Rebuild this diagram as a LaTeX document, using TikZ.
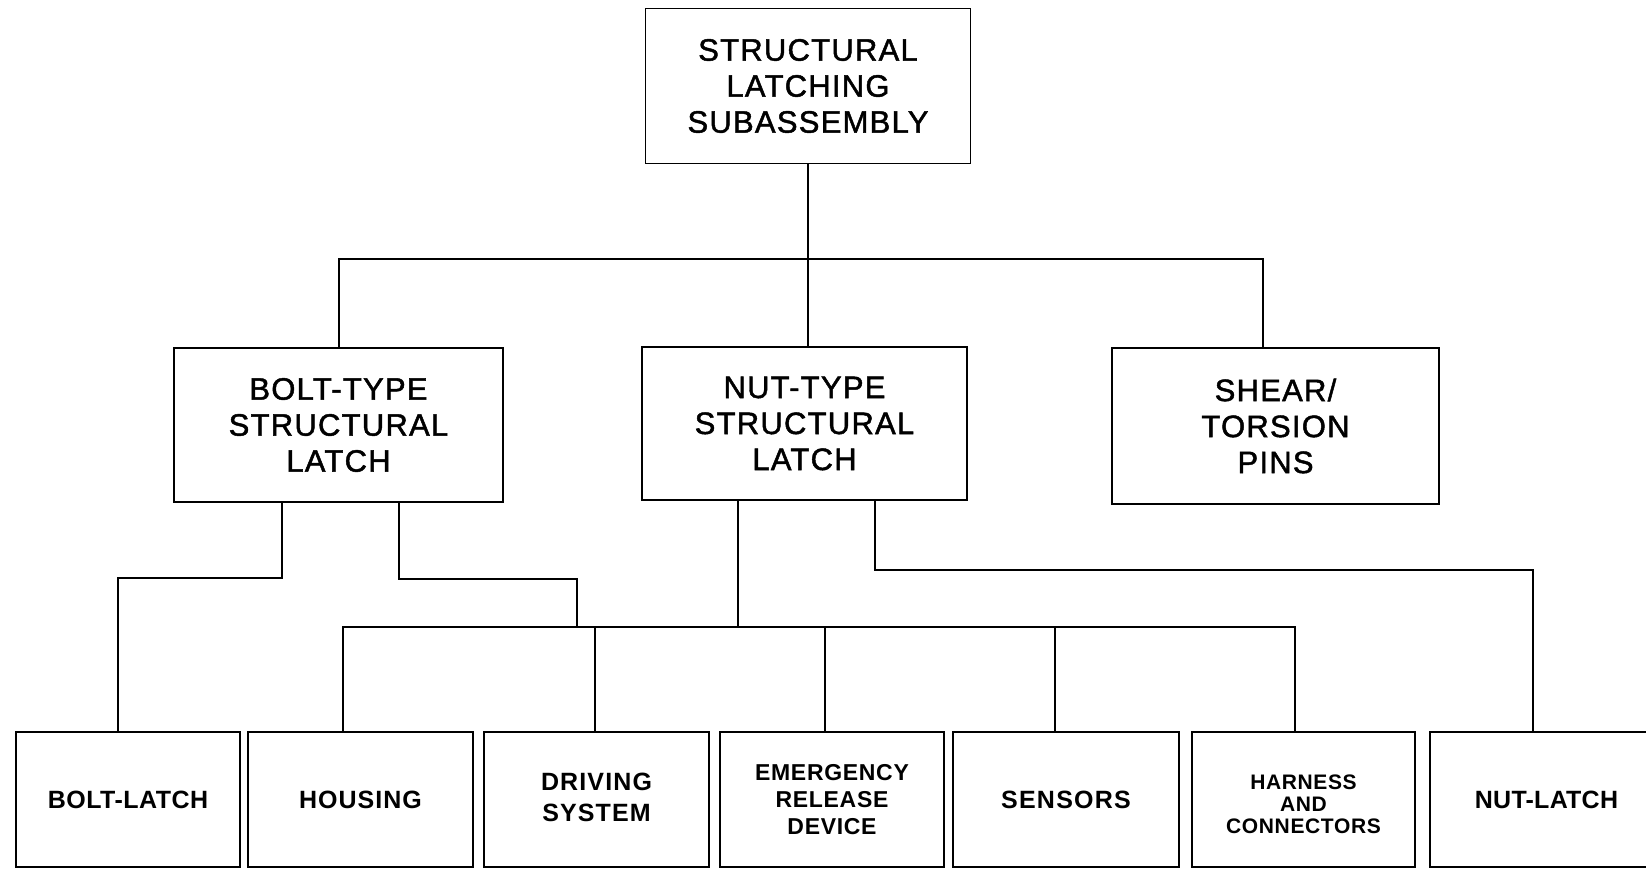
\documentclass[tikz,border=0pt]{standalone}
\usepackage{fontspec}
\setmainfont{Liberation Sans}
\newfontfamily\spacedfont[LetterSpace=4,FakeBold=1.5]{Liberation Sans}
\newcommand\bigtxt{\fontsize{31}{36}\selectfont\spacedfont}
\newcommand\lowfont[3]{\fontsize{#1}{#2}\selectfont\bfseries\addfontfeature{LetterSpace=#3}}
\begin{document}
\begin{tikzpicture}[x=1pt,y=-1pt,
  line width=1.6pt,
  box/.style={draw, line width=1.6pt, inner sep=0pt, align=center},
  topbox/.style={box, font=\bigtxt, minimum width=325pt, minimum height=155pt},
  lowbox/.style={box, minimum width=224pt, minimum height=135pt},
  conn/.style={line width=1.5pt}]
\useasboundingbox (0,0) rectangle (1646,868);
\clip (0,0) rectangle (1646,868);

% level 0
\node[topbox] (top) at (808,86) {STRUCTURAL\\LATCHING\\SUBASSEMBLY};
% level 1
\node[topbox, minimum width=329pt, minimum height=154pt] (bolt) at (338.5,425) {BOLT-TYPE\\STRUCTURAL\\LATCH};
\node[topbox, minimum width=325pt, minimum height=153pt] (nut) at (804.5,423.5) {NUT-TYPE\\STRUCTURAL\\LATCH};
\node[topbox, minimum width=327pt, minimum height=156pt] (shear) at (1275.5,426) {SHEAR/\\TORSION\\PINS};
% level 2
\node[lowbox, font={\lowfont{25}{31}{2}}] (bl) at (128,799.5) {BOLT-LATCH};
\node[lowbox, minimum width=225pt, font={\lowfont{25}{31}{4}}] (hous) at (360.5,799.5) {HOUSING};
\node[lowbox, minimum width=225pt,
  label={[font={\lowfont{25}{31}{4.5}}, align=center, inner sep=0pt, yshift=2.5pt]center:{DRIVING\\SYSTEM}}] (drv) at (596.5,799.5) {};
\node[lowbox, font={\lowfont{23}{27}{3}}] (emg) at (832,799.5) {EMERGENCY\\RELEASE\\DEVICE};
\node[lowbox, minimum width=226pt, font={\lowfont{25}{31}{5}}] (sen) at (1066,799.5) {SENSORS};
\node[lowbox, minimum width=223pt,
  label={[font={\lowfont{21}{22}{3}}, align=center, inner sep=0pt, yshift=-5pt]center:{HARNESS\\AND\\CONNECTORS}}] (har) at (1303.5,799.5) {};
\node[lowbox, minimum width=240pt, font={\lowfont{25}{31}{1}}] (nl) at (1550,799.5) {\hspace*{-7pt}NUT-LATCH};

% bus coordinates
\coordinate (busL) at (339,259);
\coordinate (busR) at (1263,259);
\coordinate (b2L) at (343,627);
\coordinate (b2R) at (1295,627);
\coordinate (bA) at (282,0);
\coordinate (bB) at (399,0);
\coordinate (nA) at (738,0);
\coordinate (nB) at (875,0);
\coordinate (dD) at (595,0);
\coordinate (dE) at (825,0);
\coordinate (dS) at (1055,0);

% top to level 1
\draw[conn] (top.south) -- (top.south |- nut.north);
\draw[conn] (busL |- bolt.north) -- (busL) -- (busR) -- (busR |- shear.north);

% bolt-type connectors
\draw[conn] (bA |- bolt.south) -- (282,578) -- (118,578) -- (118,0 |- bl.north);
\draw[conn] (bB |- bolt.south) -- (399,579) -- (577,579) -- (577,627);

% nut-type connectors
\draw[conn] (nA |- nut.south) -- (nA |- b2L);
\draw[conn] (nB |- nut.south) -- (875,570) -- (1533,570) -- (1533,0 |- nl.north);

% lower bus
\draw[conn] (b2L |- hous.north) -- (b2L) -- (b2R) -- (b2R |- har.north);
\draw[conn] (dD |- b2L) -- (dD |- drv.north);
\draw[conn] (dE |- b2L) -- (dE |- emg.north);
\draw[conn] (dS |- b2L) -- (dS |- sen.north);
\end{tikzpicture}
\end{document}
